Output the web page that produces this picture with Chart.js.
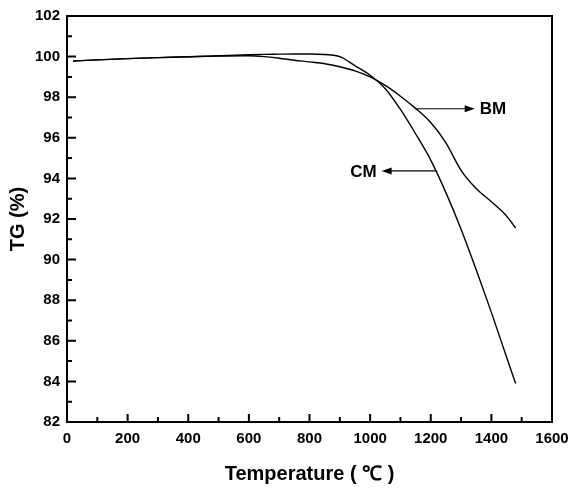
<!DOCTYPE html>
<html>
<head>
<meta charset="utf-8">
<script src="https://cdn.jsdelivr.net/npm/chart.js@4.4.1/dist/chart.umd.min.js"></script>
<style>
  html, body { margin: 0; padding: 0; background: #fff; }
  #wrap { width: 570px; height: 488px; }
</style>
</head>
<body>
<div id="wrap"><canvas id="tgChart" width="570" height="488"></canvas></div>
<script>
// temperature (°C) and TG (%)
const temps = [20, 100, 200, 300, 400, 500, 600, 650, 700, 750, 800, 850, 900, 950, 1000, 1050, 1100, 1150, 1200, 1250, 1300, 1350, 1400, 1450, 1480];
const cmTG = [99.78, 99.84, 99.9, 99.95, 99.99, 100.04, 100.09, 100.11, 100.12, 100.13, 100.13, 100.1, 100.0, 99.55, 99.08, 98.42, 97.4, 96.2, 94.9, 93.3, 91.5, 89.5, 87.4, 85.2, 83.9];
const bmTG = [99.78, 99.84, 99.9, 99.95, 99.99, 100.03, 100.04, 100.0, 99.92, 99.82, 99.74, 99.65, 99.5, 99.3, 99.0, 98.58, 98.05, 97.45, 96.75, 95.75, 94.4, 93.5, 92.85, 92.15, 91.55];

const xTicks = [0, 200, 400, 600, 800, 1000, 1200, 1400, 1600];
const yTicks = [82, 84, 86, 88, 90, 92, 94, 96, 98, 100, 102];

// arrow labels: name, start point on the curve, arrow tip (data units)
const arrowNames = ['BM', 'CM'];
const arrowFrom = [[1153, 97.43], [1221, 94.37]];
const arrowTo = [[1345, 97.43], [1038, 94.37]];

const FONT = '"Liberation Sans", Arial, sans-serif';

const framePlugin = {
  id: 'frame',
  afterDatasetsDraw(chart) {
    const { ctx, chartArea: a, scales: { x, y } } = chart;
    ctx.save();
    ctx.strokeStyle = '#000';
    ctx.fillStyle = '#000';
    ctx.lineWidth = 2;
    ctx.strokeRect(a.left, a.top, a.right - a.left, a.bottom - a.top);

    // inward ticks, major and minor
    ctx.beginPath();
    for (let i = 0; i < yTicks.length; i++) {
      const py = y.getPixelForValue(yTicks[i]);
      ctx.moveTo(a.left, py); ctx.lineTo(a.left + 9, py);
      if (i < yTicks.length - 1) {
        const pm = y.getPixelForValue((yTicks[i] + yTicks[i + 1]) / 2);
        ctx.moveTo(a.left, pm); ctx.lineTo(a.left + 5, pm);
      }
    }
    for (let i = 0; i < xTicks.length; i++) {
      const px = x.getPixelForValue(xTicks[i]);
      ctx.moveTo(px, a.bottom); ctx.lineTo(px, a.bottom - 8);
      if (i < xTicks.length - 1) {
        const pm = x.getPixelForValue((xTicks[i] + xTicks[i + 1]) / 2);
        ctx.moveTo(pm, a.bottom); ctx.lineTo(pm, a.bottom - 5);
      }
    }
    ctx.stroke();

    // arrows with labels
    ctx.font = 'bold 17px ' + FONT;
    ctx.textBaseline = 'middle';
    arrowNames.forEach((name, i) => {
      const x0 = x.getPixelForValue(arrowFrom[i][0]);
      const y0 = y.getPixelForValue(arrowFrom[i][1]);
      const x1 = x.getPixelForValue(arrowTo[i][0]);
      const y1 = y.getPixelForValue(arrowTo[i][1]);
      const dir = x1 > x0 ? 1 : -1;
      ctx.lineWidth = 1.2;
      ctx.beginPath();
      ctx.moveTo(x0, y0); ctx.lineTo(x1 - dir * 8, y1);
      ctx.stroke();
      ctx.beginPath();
      ctx.moveTo(x1, y1);
      ctx.lineTo(x1 - dir * 10, y1 - 3.5);
      ctx.lineTo(x1 - dir * 10, y1 + 3.5);
      ctx.closePath();
      ctx.fill();
      ctx.textAlign = dir > 0 ? 'left' : 'right';
      ctx.fillText(name, x1 + dir * 5, y1 + 1);
    });
    ctx.restore();
  }
};

new Chart(document.getElementById('tgChart'), {
  type: 'line',
  data: {
    datasets: [
      {
        label: 'CM',
        data: temps.map((t, i) => ({ x: t, y: cmTG[i] })),
        borderColor: '#000',
        borderWidth: 1.4,
        pointRadius: 0,
        cubicInterpolationMode: 'monotone',
        fill: false
      },
      {
        label: 'BM',
        data: temps.map((t, i) => ({ x: t, y: bmTG[i] })),
        borderColor: '#000',
        borderWidth: 1.4,
        pointRadius: 0,
        cubicInterpolationMode: 'monotone',
        fill: false
      }
    ]
  },
  options: {
    responsive: false,
    animation: false,
    layout: { padding: { top: 14, right: 0, left: 0, bottom: 0 } },
    plugins: { legend: { display: false }, tooltip: { enabled: false } },
    scales: {
      x: {
        type: 'linear',
        min: xTicks[0],
        max: xTicks[xTicks.length - 1],
        ticks: { stepSize: 200, color: '#000', padding: 8, maxRotation: 0, callback: v => String(v), font: { family: FONT, size: 15, weight: 'bold' } },
        grid: { display: false, drawTicks: false },
        border: { display: false },
        title: { display: true, text: 'Temperature ( ℃ )', color: '#000', padding: { top: 0, bottom: 2 }, font: { family: FONT, size: 20, weight: 'bold' } },
        afterFit(s) { s.height = 66; s.paddingRight = 18; }
      },
      y: {
        min: yTicks[0],
        max: yTicks[yTicks.length - 1],
        ticks: { stepSize: 2, color: '#000', padding: 7, callback: v => String(v), font: { family: FONT, size: 15, weight: 'bold' } },
        grid: { display: false, drawTicks: false },
        border: { display: false },
        title: { display: true, text: 'TG (%)', color: '#000', padding: { top: 6, bottom: 0 }, font: { family: FONT, size: 20, weight: 'bold' } },
        afterFit(s) { s.width = 67; }
      }
    }
  },
  plugins: [framePlugin]
});
</script>
</body>
</html>
